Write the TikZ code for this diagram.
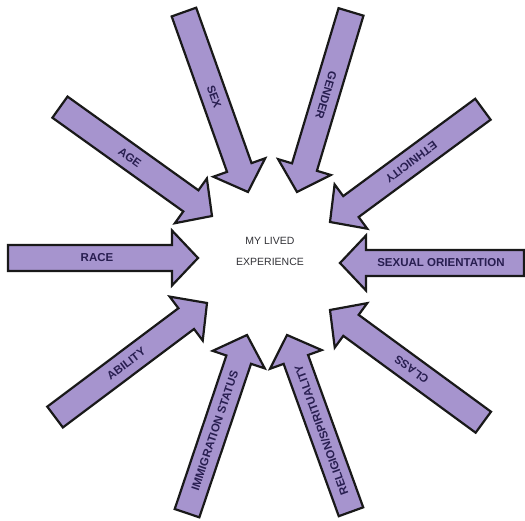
\documentclass[tikz,border=0pt]{standalone}
\usepackage{fontspec}
\setmainfont{Liberation Sans}
\definecolor{arrowfill}{RGB}{166,148,206}
\definecolor{lbltext}{RGB}{40,30,80}
\definecolor{centertext}{RGB}{50,50,55}
\tikzset{
  arrowshape/.style={draw=black!90, line width=2.2pt, fill=arrowfill, line join=miter},
  lbl/.style={font=\bfseries\fontsize{11.5}{12}\selectfont, text=lbltext, inner sep=0pt},
  centerlbl/.style={font=\fontsize{10.5}{21}\selectfont, text=centertext, align=center}
}
\newcommand{\LblArrow}[6]{%
  \begin{scope}[shift={(#2)}, rotate=#3]
    \draw[arrowshape] (0,0) -- (-26,27.5) -- (-26,13) -- (-#4,13) -- (-#4,-13) -- (-26,-13) -- (-26,-27.5) -- cycle;
    \node[lbl, rotate=#5] (#1) at (-101,0) {#6};
  \end{scope}}
\begin{document}
\begin{tikzpicture}[x=1pt,y=1pt]
  \useasboundingbox[fill=white] (0,0) rectangle (525,521);
  \node[centerlbl] (center) at (270,269.5) {MY LIVED\\EXPERIENCE};
  \LblArrow{race}{198,263}{0}{190}{0}{RACE}
  \LblArrow{age}{212,305}{-35.6}{187}{-35.6}{AGE}
  \LblArrow{sex}{248,329}{-70.4}{191}{-70.4}{SEX}
  \LblArrow{gender}{297,329}{-106.7}{188}{-106.7}{GENDER}
  \LblArrow{ethnicity}{330,299}{-143.6}{190}{-143.6}{ETHNICITY}
  \LblArrow{sexor}{340,258}{180}{184}{0}{SEXUAL ORIENTATION}
  \LblArrow{class}{330,211}{143.8}{190}{143.8}{CLASS}
  \LblArrow{religion}{287,186}{109.9}{188}{109.9}{RELIGION/SPIRITUALITY}
  \LblArrow{immigration}{247,186}{71.4}{188}{71.4}{IMMIGRATION STATUS}
  \LblArrow{ability}{207,218}{36.9}{190}{36.9}{ABILITY}
\end{tikzpicture}
\end{document}
